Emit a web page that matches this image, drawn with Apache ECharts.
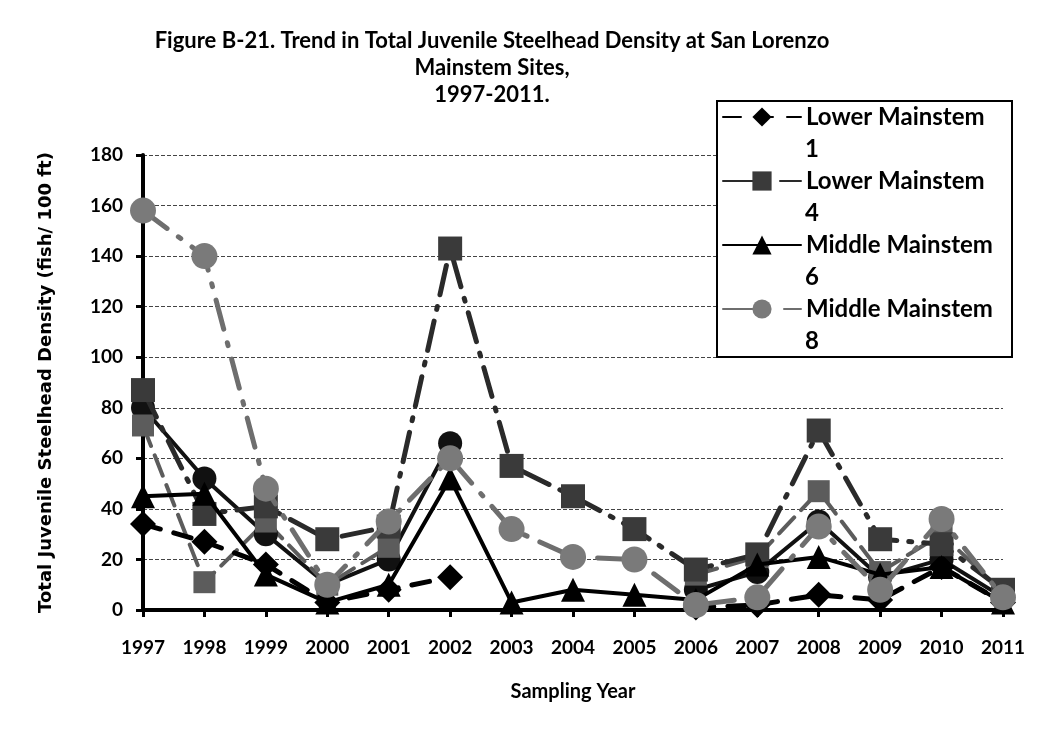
<!DOCTYPE html>
<html>
<head>
<meta charset="utf-8">
<script src="https://cdn.jsdelivr.net/npm/echarts@6/dist/echarts.min.js"></script>
<style>
html,body{margin:0;padding:0;background:#fff;}
#chart{width:1049px;height:731px;}
</style>
</head>
<body>
<div id="chart"></div>
<script>
const years = ['1997','1998','1999','2000','2001','2002','2003','2004','2005','2006','2007','2008','2009','2010','2011'];
const yTicks = [0,20,40,60,80,100,120,140,160,180];

const lowerMainstem1  = [34, 27, 18, 3, 8, 13, null, null, null, 1, 2, 6, 4, 17, 3];
const lowerMainstem4  = [87, 38, 41, 28, 33, 143, 57, 45, 32, 16, 22, 71, 28, 26, 8];
const middleMainstem6 = [45, 46, 14, 3, 10, 52, 3, 8, 6, 4, 18, 21, 14, 17, 3];
const middleMainstem8 = [158, 140, 48, 10, 35, 60, 32, 21, 20, 2, 5, 33, 8, 36, 5];
const otherBlackCircle = [80, 52, 30, 10, 20, 66, null, null, null, 8, 15, 35, 13, 20, 5];
const otherGraySquare  = [73, 11, 35, 10, 25, null, null, null, null, 14, 21, 47, 15, 30, 7];

const legendNames = ['Lower Mainstem 1','Lower Mainstem 4','Middle Mainstem 6','Middle Mainstem 8'];

const chart = echarts.init(document.getElementById('chart'), null, {renderer:'canvas'});
const FONT = 'Lato';

function series(name, data, symbol, size, color, lineColor, lineType, width, z) {
  return {
    name, type:'line', data, symbol, symbolSize:size, showSymbol:true,
    connectNulls:false, z: z,
    itemStyle:{color:color, borderColor:color, borderWidth:0},
    lineStyle:{color:lineColor, width:width, type:lineType, cap:'round'},
    emphasis:{disabled:true}, animation:false
  };
}

const legendText = {fontFamily:FONT, fontWeight:'bold', fontSize:24, lineHeight:32, color:'#000'};

chart.setOption({
  animation:false,
  backgroundColor:'#fff',
  title:{
    text:'Figure B-21. Trend in Total Juvenile Steelhead Density at San Lorenzo\nMainstem Sites,\n1997-2011.',
    left:487, top:22, textAlign:'center',
    textStyle:{fontFamily:FONT, fontWeight:'bold', fontSize:22, lineHeight:27, color:'#000'}
  },
  graphic:[{
    type:'rect', z:5, silent:true,
    shape:{x:717, y:101, width:295, height:256},
    style:{fill:'#fff', stroke:'#000', lineWidth:2}
  }],
  grid:{left:143, right:46, top:155, bottom:121, containLabel:false},
  legend:[{
    orient:'vertical', left:722, top:101, z:6, selectedMode:false,
    data:legendNames,
    formatter: n => n.replace(/ \d+$/, ''),
    padding:0, itemGap:32, itemWidth:78, itemHeight:24,
    textStyle:legendText
  },{
    orient:'vertical', left:799, top:133, z:6, selectedMode:false,
    data:legendNames,
    formatter: n => n.replace(/^.* (\d+)$/, '$1'),
    padding:0, itemGap:32, itemWidth:1, itemHeight:1, icon:'rect',
    itemStyle:{opacity:0}, lineStyle:{opacity:0},
    textStyle:legendText
  }],
  xAxis:{
    type:'category', data:years, boundaryGap:false,
    name:'Sampling Year', nameLocation:'middle', nameGap:72,
    nameTextStyle:{fontFamily:FONT, fontWeight:'bold', fontSize:20, color:'#000'},
    axisLine:{lineStyle:{color:'#000', width:4}},
    axisTick:{show:true, inside:false, length:7, lineStyle:{color:'#000', width:3}},
    axisLabel:{fontFamily:FONT, fontWeight:'bold', fontSize:19, color:'#000', margin:28},
    splitLine:{show:false}
  },
  yAxis:{
    type:'value', min:0, max:180, interval:20,
    name:'Total Juvenile Steelhead Density (fish/ 100 ft)', nameLocation:'middle', nameGap:88,
    nameTextStyle:{fontFamily:'DejaVu Sans', fontWeight:'bold', fontSize:18, color:'#000'},
    axisLine:{show:true, lineStyle:{color:'#000', width:4}},
    axisTick:{show:true, inside:false, length:7, lineStyle:{color:'#000', width:3}},
    axisLabel:{fontFamily:FONT, fontWeight:'bold', fontSize:19, color:'#000', margin:20,
      formatter: v => yTicks.includes(v) ? String(v) : ''},
    splitLine:{show:true, lineStyle:{color:'#444', width:1, type:[4,2]}}
  },
  series:[
    series('Other site (black circle)', otherBlackCircle, 'circle', 24, '#111', '#111', 'solid', 4, 3),
    series('Other site (gray square)', otherGraySquare, 'rect', 22, '#5c5c5c', '#5c5c5c', [22,10], 4, 3),
    series('Lower Mainstem 1', lowerMainstem1, 'diamond', 26, '#000', '#000', [18,14], 5, 4),
    series('Lower Mainstem 4', lowerMainstem4, 'rect', 24, '#3a3a3a', '#2a2a2a', [30,12,3,12], 5, 5),
    series('Middle Mainstem 6', middleMainstem6, 'triangle', 24, '#000', '#000', 'solid', 4, 6),
    series('Middle Mainstem 8', middleMainstem8, 'circle', 26, '#7a7a7a', '#6e6e6e', [30,14,3,14], 5, 7)
  ]
});
</script>
</body>
</html>
